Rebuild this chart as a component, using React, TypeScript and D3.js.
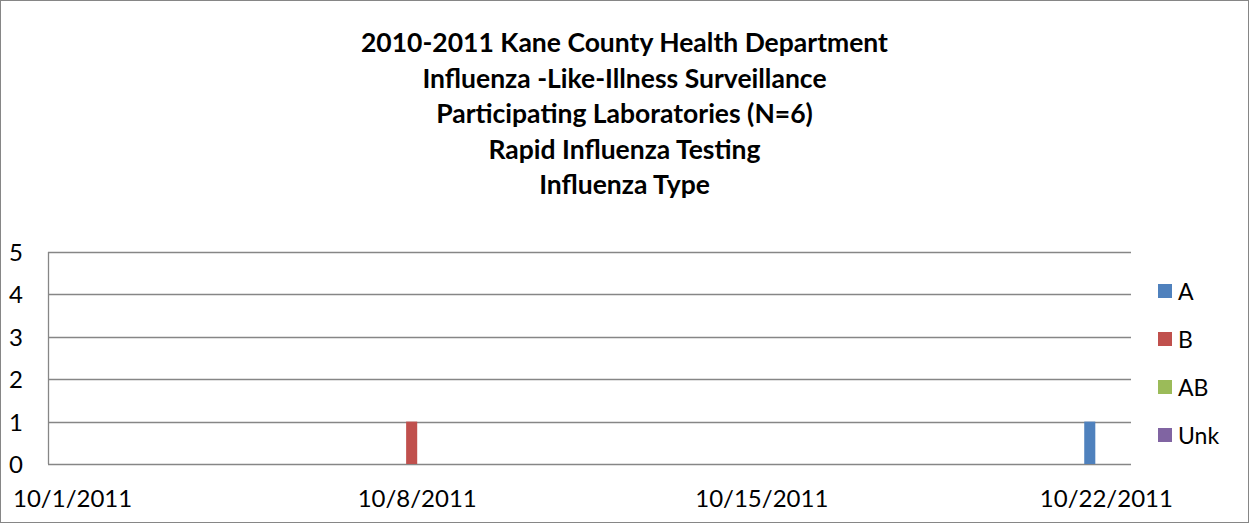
import { useMemo } from "react";
import * as d3 from "d3";

const WIDTH = 1249;
const HEIGHT = 523;

const titleLines = [
    "2010-2011 Kane County Health Department",
    "Influenza -Like-Illness Surveillance",
    "Participating Laboratories (N=6)",
    "Rapid Influenza Testing",
    "Influenza Type",
];

const dates = [
    "10/1/2011", "10/2/2011", "10/3/2011", "10/4/2011", "10/5/2011", "10/6/2011",
    "10/7/2011", "10/8/2011", "10/9/2011", "10/10/2011", "10/11/2011", "10/12/2011",
    "10/13/2011", "10/14/2011", "10/15/2011", "10/16/2011", "10/17/2011", "10/18/2011",
    "10/19/2011", "10/20/2011", "10/21/2011", "10/22/2011",
];

const tickDates = ["10/1/2011", "10/8/2011", "10/15/2011", "10/22/2011"];

const seriesNames = ["A", "B", "AB", "Unk"];

const valuesA = [0, 0, 0, 0, 0, 0, 0, 0, 0, 0, 0, 0, 0, 0, 0, 0, 0, 0, 0, 0, 0, 1];
const valuesB = [0, 0, 0, 0, 0, 0, 0, 1, 0, 0, 0, 0, 0, 0, 0, 0, 0, 0, 0, 0, 0, 0];
const valuesAB = [0, 0, 0, 0, 0, 0, 0, 0, 0, 0, 0, 0, 0, 0, 0, 0, 0, 0, 0, 0, 0, 0];
const valuesUnk = [0, 0, 0, 0, 0, 0, 0, 0, 0, 0, 0, 0, 0, 0, 0, 0, 0, 0, 0, 0, 0, 0];

const yTicks = [0, 1, 2, 3, 4, 5];

const colors = ["#4F81BD", "#C0504D", "#9BBB59", "#8064A2"];

const FONT = "Lato, Calibri, 'Open Sans', sans-serif";
const GRID = "#868686";

const PLOT = { left: 48, right: 1131, top: 252, bottom: 464 };

const App = () => {
    const series = [valuesA, valuesB, valuesAB, valuesUnk];

    const x = useMemo(
        () =>
            d3.scaleBand<string>()
                .domain(dates)
                .range([PLOT.left, PLOT.right])
                .paddingInner(0.1)
                .paddingOuter(0.05),
        []
    );

    const xInner = useMemo(
        () => d3.scaleBand<string>().domain(seriesNames).range([0, x.bandwidth()]),
        [x]
    );

    const y = useMemo(
        () => d3.scaleLinear().domain([0, 5]).range([PLOT.bottom, PLOT.top]),
        []
    );

    return (
        <svg
            width={WIDTH}
            height={HEIGHT}
            style={{ position: "absolute", left: 0, top: 0, background: "#fff" }}
            fontFamily={FONT}
        >
            <rect x={0.5} y={0.5} width={WIDTH - 1} height={HEIGHT - 1} fill="#fff" stroke={GRID} />

            {titleLines.map((t, i) => (
                <text
                    key={i}
                    x={WIDTH / 2}
                    y={52 + i * 35.5}
                    textAnchor="middle"
                    fontSize={26.5}
                    fontWeight="bold"
                    fill="#000"
                >
                    {t}
                </text>
            ))}

            {/* gridlines */}
            {yTicks.map((t) => (
                <line
                    key={t}
                    x1={PLOT.left}
                    x2={PLOT.right}
                    y1={Math.round(y(t)) + 0.5}
                    y2={Math.round(y(t)) + 0.5}
                    stroke={GRID}
                    strokeWidth={1.3}
                />
            ))}
            <line
                x1={PLOT.left + 0.5}
                x2={PLOT.left + 0.5}
                y1={y(5)}
                y2={y(0)}
                stroke={GRID}
                strokeWidth={1.3}
            />

            {yTicks.map((t) => (
                <text key={t} x={23} y={y(t) + 9} textAnchor="end" fontSize={24} fill="#000">
                    {t}
                </text>
            ))}

            {tickDates.map((d) => (
                <text
                    key={d}
                    x={(x(d) ?? 0) + x.bandwidth() / 2}
                    y={507}
                    textAnchor="middle"
                    fontSize={24}
                    fill="#000"
                >
                    {d}
                </text>
            ))}

            {/* bars */}
            {series.map((vals, si) =>
                vals.map((v, di) =>
                    v > 0 ? (
                        <rect
                            key={`${si}-${di}`}
                            x={(x(dates[di]) ?? 0) + (xInner(seriesNames[si]) ?? 0)}
                            y={y(v)}
                            width={xInner.bandwidth()}
                            height={y(0) - y(v)}
                            fill={colors[si]}
                        />
                    ) : null
                )
            )}

            {/* legend */}
            {seriesNames.map((name, i) => (
                <g key={name} transform={`translate(1158, ${291 + i * 48})`}>
                    <rect x={0} y={-7} width={14} height={14} fill={colors[i]} />
                    <text x={20} y={8.5} fontSize={23} fill="#000">
                        {name}
                    </text>
                </g>
            ))}
        </svg>
    );
};

export default App;
